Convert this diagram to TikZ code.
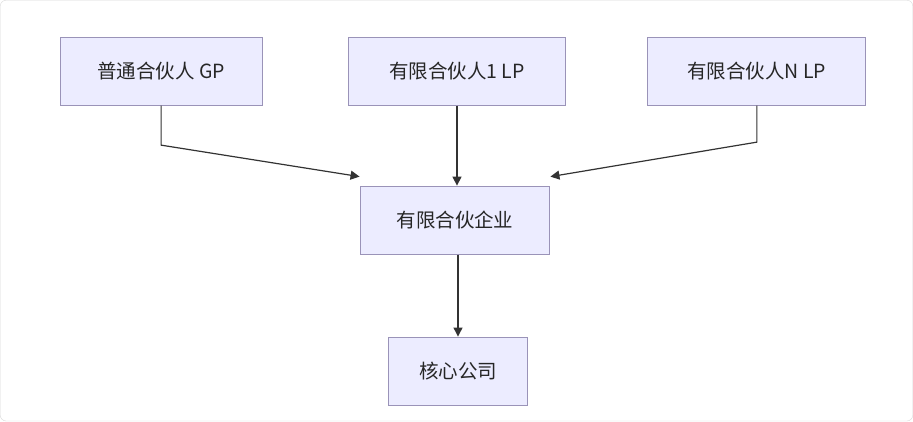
\documentclass[tikz,border=0pt]{standalone}
\usepackage{fontspec}
\newfontfamily\cjk{Noto Sans CJK SC}
\usetikzlibrary{arrows.meta}
\definecolor{boxfill}{HTML}{ECECFF}
\definecolor{boxline}{HTML}{9A93B8}
\tikzset{
  party/.style={draw=boxline, fill=boxfill, line width=1pt, font=\cjk\fontsize{19.5}{23}\selectfont,
    text=black!85, minimum height=68pt, inner sep=0pt},
  link/.style={draw=black!80, line width=1.2pt, -{Triangle[length=9pt,width=9pt]}}
}
\begin{document}
\begin{tikzpicture}[x=1pt,y=-1pt]
\useasboundingbox[draw=black!15, fill=white, rounded corners=6pt] (0,0) rectangle (913,421);
\node[party, minimum width=202pt] (gp) at (161,71) {普通合伙人 GP};
\node[party, minimum width=218pt] (lpa) at (457,71) {有限合伙人1 LP};
\node[party, minimum width=218pt] (lpn) at (757,71) {有限合伙人N LP};
\node[party, minimum width=190pt] (firm) at (455,220) {有限合伙企业};
\node[party, minimum width=140pt] (core) at (458,371) {核心公司};
\coordinate (gpbend) at (161,145);
\coordinate (lpnbend) at (757,142);
\draw[link] (gp.south) -- (gpbend) -- ([yshift=9pt]firm.north west);
\draw[link] (lpa.south) -- (lpa.south |- firm.north);
\draw[link] (lpn.south) -- (lpnbend) -- ([yshift=9pt]firm.north east);
\draw[link] (core.north |- firm.south) -- (core.north);
\end{tikzpicture}
\end{document}
